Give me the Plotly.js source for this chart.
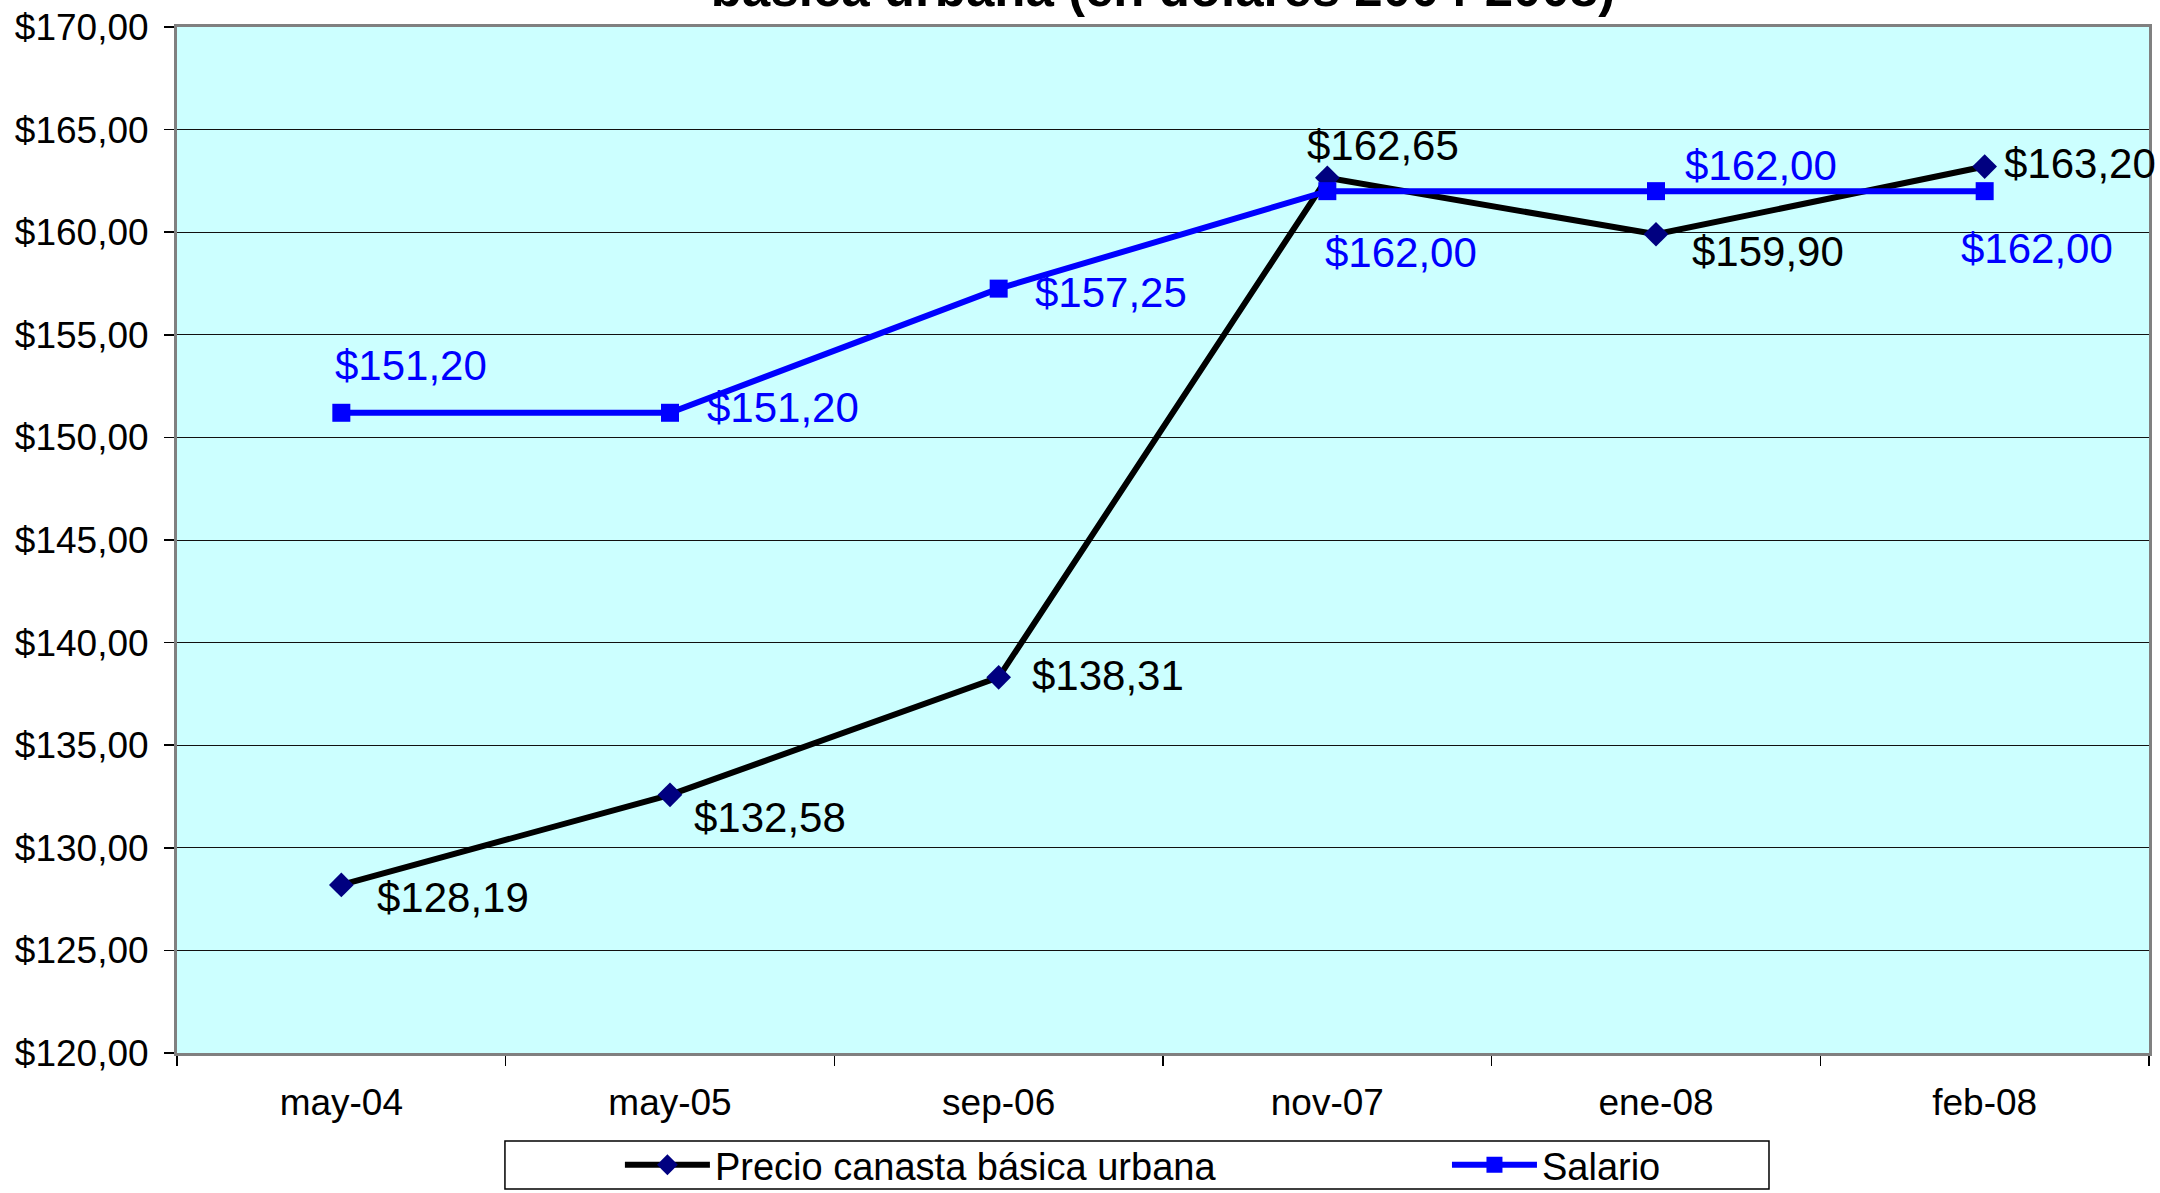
<!DOCTYPE html>
<html>
<head>
<meta charset="utf-8">
<script src="https://cdn.plot.ly/plotly-3.0.1.min.js"></script>
<style>html,body{margin:0;padding:0;background:#fff;}#chart{width:2160px;height:1193px;}</style>
</head>
<body>
<div id="chart"></div>
<script>
// ---- data ----
const categories = ["may-04", "may-05", "sep-06", "nov-07", "ene-08", "feb-08"];
const precioCanasta = [128.19, 132.58, 138.31, 162.65, 159.90, 163.20];
const salario = [151.20, 151.20, 157.25, 162.00, 162.00, 162.00];
const seriesNames = ["Precio canasta básica urbana", "Salario"];
const titleText = "básica urbana (en dólares 2004-2008)";

// ---- label placement (pixels, styling only) ----
const precioDx = [34, 22, 31, -22, 34, 17];
const precioDy = [13, 23, -2, -32, 17, -3];
const salarioDx = [-8, 35, 34, -4, 27, -26];
const salarioDy = [-47, -5, 4, 61, -26, 57];

const FONT = "Liberation Sans, Arial, sans-serif";
const fmt = v => "$" + v.toFixed(2).replace(".", ",");

const traces = [
  {
    x: categories, y: precioCanasta, name: seriesNames[0], type: "scatter", mode: "lines+markers",
    legend: "legend",
    line: {color: "#000000", width: 6},
    marker: {symbol: "diamond", size: 19, color: "#000080", line: {width: 0}}
  },
  {
    x: categories, y: salario, name: seriesNames[1], type: "scatter", mode: "lines+markers",
    legend: "legend2",
    line: {color: "#0000FF", width: 6},
    marker: {symbol: "square", size: 18, color: "#0000FF", line: {width: 0}}
  }
];

const annotations = [];
categories.forEach((c, i) => {
  annotations.push({x: c, y: precioCanasta[i], xref: "x", yref: "y", text: fmt(precioCanasta[i]),
    showarrow: false, xanchor: "left", yanchor: "middle", xshift: precioDx[i], yshift: -precioDy[i],
    font: {family: FONT, size: 42, color: "#000000"}});
  annotations.push({x: c, y: salario[i], xref: "x", yref: "y", text: fmt(salario[i]),
    showarrow: false, xanchor: "left", yanchor: "middle", xshift: salarioDx[i], yshift: -salarioDy[i],
    font: {family: FONT, size: 42, color: "#0000FF"}});
});

const legendCommon = {
  orientation: "h", xanchor: "left", y: -0.1092, yanchor: "middle",
  bgcolor: "rgba(0,0,0,0)", borderwidth: 0,
  font: {family: FONT, size: 38, color: "#000000"}, itemwidth: 85
};

const layout = {
  width: 2160, height: 1193,
  margin: {l: 177, r: 11, t: 27, b: 140, pad: 0, autoexpand: false},
  paper_bgcolor: "#FFFFFF",
  plot_bgcolor: "#CCFFFF",
  separators: ",.",
  font: {family: FONT, size: 36, color: "#000000"},
  title: {
    text: titleText, font: {family: FONT, size: 51, color: "#000000", weight: "bold"},
    xref: "paper", x: 0.5, xanchor: "center", yref: "container", y: 0.995, yanchor: "bottom"
  },
  showlegend: true,
  legend: Object.assign({}, legendCommon, {x: 0.2246}),
  legend2: Object.assign({}, legendCommon, {x: 0.644}),
  xaxis: {
    type: "category", range: [-0.5, 5.5], showgrid: false, tickson: "boundaries",
    ticks: "outside", ticklen: 10, tickwidth: 1.5, tickcolor: "#000000",
    showline: true, linecolor: "#808080", linewidth: 3, mirror: true,
    tickfont: {family: FONT, size: 37, color: "#000000"}, ticklabelstandoff: 15,
    fixedrange: true, zeroline: false
  },
  yaxis: {
    range: [120, 170], dtick: 5, tick0: 120, tickformat: ".2f", tickprefix: "$",
    showgrid: true, gridcolor: "#111111", gridwidth: 1,
    ticks: "outside", ticklen: 10, tickwidth: 1.5, tickcolor: "#000000",
    showline: true, linecolor: "#808080", linewidth: 3, mirror: true,
    tickfont: {family: FONT, size: 37, color: "#000000"}, ticklabelstandoff: 8,
    zeroline: false, fixedrange: true
  },
  shapes: [{
    type: "rect", xref: "paper", yref: "paper",
    x0: 0.1663, x1: 0.8073, y0: -0.0858, y1: -0.1326,
    line: {color: "#000000", width: 1.5}, fillcolor: "rgba(0,0,0,0)", layer: "above"
  }],
  annotations: annotations
};

Plotly.newPlot("chart", traces, layout, {staticPlot: true, displayModeBar: false});
</script>
</body>
</html>
